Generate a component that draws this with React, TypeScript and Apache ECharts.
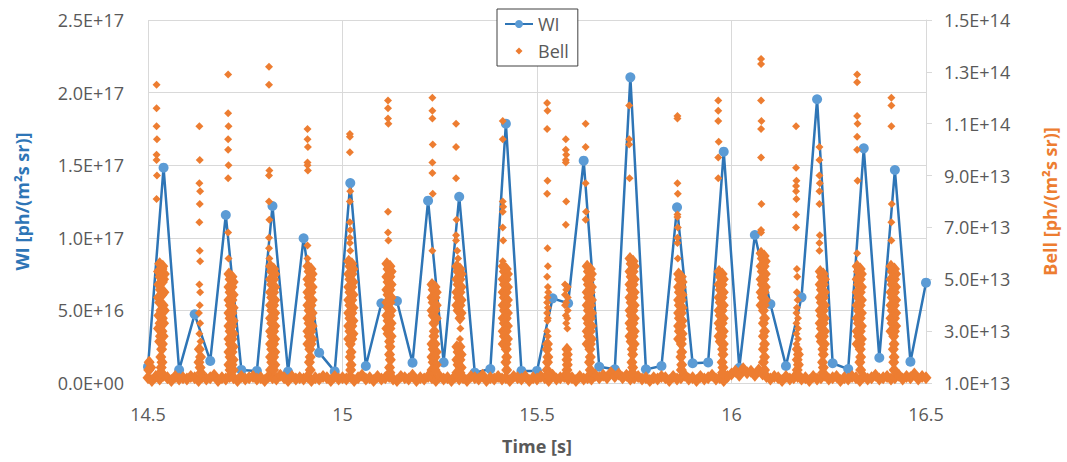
import React, { useEffect, useRef } from 'react';
import * as echarts from 'echarts';

// WI series: time [s] and intensity [ph/(m² s sr)]
const wiTime = [
  14.5, 14.54, 14.58, 14.62, 14.66, 14.7, 14.74, 14.78, 14.82, 14.86, 14.9, 14.94, 14.98,
  15.02, 15.06, 15.1, 15.14, 15.18, 15.22, 15.26, 15.3, 15.34, 15.38, 15.42, 15.46, 15.5,
  15.54, 15.58, 15.62, 15.66, 15.7, 15.74, 15.78, 15.82, 15.86, 15.9, 15.94, 15.98, 16.02,
  16.06, 16.1, 16.14, 16.18, 16.22, 16.26, 16.3, 16.34, 16.38, 16.42, 16.46, 16.5,
];
const wiValue = [
  1.12e16, 14.83e16, 0.9e16, 4.73e16, 1.52e16, 11.57e16, 0.9e16, 0.83e16, 12.19e16, 0.78e16, 9.97e16, 2.09e16, 0.8e16,
  13.77e16, 1.17e16, 5.49e16, 5.65e16, 1.4e16, 12.56e16, 1.42e16, 12.83e16, 0.71e16, 0.96e16, 17.86e16, 0.83e16, 0.83e16,
  5.83e16, 5.49e16, 15.31e16, 1.12e16, 0.94e16, 21.05e16, 0.94e16, 1.17e16, 12.1e16, 1.36e16, 1.42e16, 15.93e16, 1.05e16,
  10.19e16, 5.44e16, 1.17e16, 5.9e16, 19.54e16, 1.36e16, 0.96e16, 16.16e16, 1.74e16, 14.67e16, 1.47e16, 6.91e16,
];

// Bell series, [time s, intensity in units of 1e12 ph/(m² s sr)] — background level
const bellBaseline: [number, number][] = [
  [14.50,12],[14.51,11],[14.52,12.5],[14.53,11.5],[14.54,13],[14.55,12],[14.56,11],[14.57,12.5],[14.58,11.5],[14.59,12],
  [14.60,11.5],[14.61,12.5],[14.62,12],[14.63,11],[14.64,12.5],[14.65,11.5],[14.66,12],[14.67,13],[14.68,11],[14.69,12],
  [14.70,11.5],[14.71,12.5],[14.72,12],[14.73,11],[14.74,12.5],[14.75,11.5],[14.76,12],[14.77,12.5],[14.78,11.5],[14.79,12],
  [14.80,11],[14.81,12.5],[14.82,12],[14.83,11.5],[14.84,13],[14.85,12],[14.86,11],[14.87,12.5],[14.88,11.5],[14.89,12],
  [14.90,11.5],[14.91,12.5],[14.92,11],[14.93,12],[14.94,11.5],[14.95,12.5],[14.96,12],[14.97,11],[14.98,12.5],[14.99,11.5],
  [15.00,12],[15.01,11.5],[15.02,12.5],[15.03,11],[15.04,12],[15.05,13],[15.06,11.5],[15.07,12],[15.08,11],[15.09,12.5],
  [15.10,11.5],[15.11,12],[15.12,12.5],[15.13,11.5],[15.14,11],[15.15,12.5],[15.16,12],[15.17,11.5],[15.18,13],[15.19,11],
  [15.20,12],[15.21,11.5],[15.22,12.5],[15.23,12],[15.24,11],[15.25,12.5],[15.26,11.5],[15.27,12],[15.28,11],[15.29,12.5],
  [15.30,11.5],[15.31,12],[15.32,11],[15.33,12.5],[15.34,12],[15.35,11.5],[15.36,13],[15.37,11],[15.38,12],[15.39,11.5],
  [15.40,12.5],[15.41,11.5],[15.42,12],[15.43,11],[15.44,12.5],[15.45,12],[15.46,11.5],[15.47,12.5],[15.48,11],[15.49,12],
  [15.50,11.5],[15.51,12.5],[15.52,12],[15.53,11],[15.54,13],[15.55,11.5],[15.56,12],[15.57,12.5],[15.58,11.5],[15.59,12],
  [15.60,11],[15.61,12.5],[15.62,11.5],[15.63,12],[15.64,11.5],[15.65,13],[15.66,12],[15.67,13],[15.68,12],[15.69,14],
  [15.70,12.5],[15.71,13.5],[15.72,12],[15.73,13],[15.74,11.5],[15.75,12],[15.76,12.5],[15.77,11.5],[15.78,12],[15.79,11],
  [15.80,12],[15.81,11.5],[15.82,12.5],[15.83,12],[15.84,11],[15.85,12.5],[15.86,11.5],[15.87,12],[15.88,13],[15.89,11.5],
  [15.90,12],[15.91,11],[15.92,12.5],[15.93,11.5],[15.94,12],[15.95,13],[15.96,11.5],[15.97,12],[15.98,11],[15.99,12.5],
  [16.00,13.5],[16.01,14.5],[16.02,13],[16.03,15.5],[16.04,14],[16.05,14.5],[16.06,13],[16.07,15],[16.08,13.5],[16.09,12.5],
  [16.10,11.5],[16.11,12.5],[16.12,12],[16.13,11],[16.14,12.5],[16.15,11.5],[16.16,12],[16.17,12.5],[16.18,11.5],[16.19,12],
  [16.20,11],[16.21,12.5],[16.22,11.5],[16.23,12],[16.24,13],[16.25,11.5],[16.26,12],[16.27,12.5],[16.28,11],[16.29,12],
  [16.30,11.5],[16.31,12.5],[16.32,12],[16.33,11],[16.34,12.5],[16.35,11.5],[16.36,12],[16.37,13],[16.38,11.5],[16.39,12],
  [16.40,12.5],[16.41,11.5],[16.42,12],[16.43,13],[16.44,11.5],[16.45,12.5],[16.46,12],[16.47,13.5],[16.48,11.5],[16.49,12.5],
  [16.50,12],
];

// Bell series, dense part of each burst [time s, 1e12 units]
const bellDense: [number, number][] = [
  [14.503,18],[14.507,16],[14.502,15],
  [14.530,56],[14.538,55],[14.527,53],[14.536,54],[14.542,52],[14.531,51],[14.540,50],[14.528,48],[14.537,49],[14.532,46],[14.541,45],[14.527,43],[14.536,44],[14.530,41],[14.539,40],[14.533,38],[14.542,38],[14.528,36],[14.537,35],[14.531,33],[14.540,33],[14.527,31],[14.536,30],[14.532,28],[14.539,28],[14.530,26],[14.537,25],[14.535,23],[14.533,20],[14.536,18],[14.534,16],[14.532,14],
  [14.632,23],[14.635,20],[14.631,18],[14.634,16],[14.636,14],
  [14.708,52],[14.716,51],[14.711,50],[14.719,49],[14.708,47],[14.716,47],[14.711,45],[14.719,44],[14.708,42],[14.716,42],[14.711,40],[14.719,39],[14.708,37],[14.716,37],[14.711,35],[14.719,34],[14.708,32],[14.716,32],[14.711,30],[14.719,29],[14.708,27],[14.716,27],[14.711,25],[14.719,24],[14.708,22],[14.716,22],[14.711,20],[14.719,19],[14.708,17],[14.716,17],[14.711,15],[14.719,15],
  [14.815,55],[14.823,54],[14.818,53],[14.826,52],[14.815,50],[14.823,50],[14.818,48],[14.826,47],[14.815,45],[14.823,45],[14.818,43],[14.826,42],[14.815,40],[14.823,40],[14.818,38],[14.826,37],[14.815,35],[14.823,35],[14.818,33],[14.826,32],[14.815,30],[14.823,30],[14.818,28],[14.826,27],[14.815,25],[14.823,25],[14.818,23],[14.826,22],[14.815,20],[14.823,20],[14.818,18],[14.826,17],[14.815,15],[14.823,15],
  [14.911,55],[14.919,54],[14.914,53],[14.922,52],[14.911,50],[14.919,50],[14.914,48],[14.922,47],[14.911,45],[14.919,45],[14.914,43],[14.922,42],[14.911,40],[14.919,40],[14.914,38],[14.922,37],[14.911,35],[14.919,35],[14.914,33],[14.922,32],[14.911,30],[14.919,30],[14.914,28],[14.922,27],[14.911,25],[14.919,25],[14.916,23],[14.917,20],[14.915,18],[14.917,15],
  [15.016,57],[15.024,56],[15.019,55],[15.027,54],[15.016,52],[15.024,52],[15.019,50],[15.027,49],[15.016,47],[15.024,47],[15.019,45],[15.027,44],[15.016,42],[15.024,42],[15.019,40],[15.027,39],[15.016,37],[15.024,37],[15.019,35],[15.027,34],[15.016,32],[15.024,32],[15.019,30],[15.027,29],[15.016,27],[15.024,27],[15.020,25],[15.022,22],[15.020,20],[15.022,17],[15.021,15],
  [15.114,56],[15.122,55],[15.117,54],[15.125,53],[15.114,51],[15.122,51],[15.117,49],[15.125,48],[15.114,46],[15.122,46],[15.117,44],[15.125,43],[15.114,41],[15.122,41],[15.117,39],[15.125,38],[15.114,36],[15.122,36],[15.117,34],[15.125,33],[15.114,31],[15.122,31],[15.117,29],[15.125,28],[15.121,26],[15.122,24],[15.121,21],[15.123,19],[15.121,16],[15.122,14],
  [15.230,48],[15.238,47],[15.233,46],[15.241,45],[15.230,43],[15.238,43],[15.233,41],[15.241,40],[15.230,38],[15.238,38],[15.233,36],[15.241,35],[15.235,33],[15.236,30],[15.235,28],[15.230,25],[15.238,25],[15.233,23],[15.241,22],[15.230,20],[15.238,20],[15.233,18],[15.241,17],[15.230,15],[15.238,15],
  [15.294,55],[15.302,54],[15.297,53],[15.305,52],[15.294,50],[15.302,50],[15.297,48],[15.305,47],[15.294,45],[15.302,45],[15.297,43],[15.305,42],[15.294,40],[15.302,40],[15.297,38],[15.305,37],[15.302,35],[15.294,24],[15.302,24],[15.297,22],[15.305,21],[15.294,19],[15.302,19],[15.297,17],[15.305,16],[15.294,14],[15.302,14],
  [15.413,55],[15.421,54],[15.416,53],[15.424,52],[15.413,50],[15.421,50],[15.416,48],[15.424,47],[15.413,45],[15.421,45],[15.416,43],[15.424,42],[15.413,40],[15.421,40],[15.416,38],[15.424,37],[15.413,35],[15.421,35],[15.416,33],[15.424,32],[15.413,30],[15.421,30],[15.416,28],[15.424,27],[15.413,25],[15.421,25],[15.421,23],[15.422,20],[15.420,18],[15.422,15],
  [15.527,25],[15.526,23],[15.528,20],[15.527,18],[15.526,15],[15.528,13],
  [15.577,23],[15.578,21],[15.577,19],[15.578,17],[15.577,15],[15.578,13],
  [15.629,55],[15.637,54],[15.632,53],[15.640,52],[15.629,50],[15.637,50],[15.632,48],[15.640,47],[15.629,45],[15.637,45],[15.632,43],[15.640,42],[15.629,40],[15.637,40],[15.632,38],[15.640,37],[15.629,35],[15.637,35],[15.632,33],[15.640,32],[15.629,30],[15.637,30],[15.632,28],[15.640,27],[15.629,25],[15.637,25],[15.636,23],[15.637,20],[15.635,18],[15.637,15],
  [15.739,58],[15.747,57],[15.742,56],[15.750,55],[15.739,53],[15.747,53],[15.742,51],[15.750,50],[15.739,48],[15.747,48],[15.742,46],[15.750,45],[15.739,43],[15.747,43],[15.742,41],[15.750,40],[15.739,38],[15.747,38],[15.742,36],[15.750,35],[15.739,33],[15.747,33],[15.742,31],[15.750,30],[15.739,28],[15.747,28],[15.742,26],[15.750,25],[15.745,23],[15.746,21],[15.744,18],[15.746,16],[15.745,14],
  [15.864,52],[15.871,51],[15.866,50],[15.873,49],[15.864,47],[15.871,47],[15.866,45],[15.873,44],[15.864,42],[15.871,42],[15.866,40],[15.873,39],[15.864,37],[15.871,37],[15.866,35],[15.873,34],[15.864,32],[15.871,32],[15.866,30],[15.873,29],[15.864,27],[15.871,27],[15.871,25],[15.872,22],[15.870,20],[15.872,17],[15.871,15],
  [15.968,53],[15.976,52],[15.971,51],[15.979,50],[15.968,48],[15.976,48],[15.971,46],[15.979,45],[15.968,43],[15.976,43],[15.971,41],[15.979,40],[15.968,38],[15.976,38],[15.971,36],[15.979,35],[15.968,33],[15.976,33],[15.971,31],[15.979,30],[15.968,28],[15.976,28],[15.971,26],[15.979,25],[15.977,23],[15.978,21],[15.976,18],[15.978,16],[15.977,14],
  [16.076,60],[16.084,59],[16.079,58],[16.087,57],[16.076,55],[16.084,55],[16.079,53],[16.087,52],[16.076,50],[16.084,50],[16.079,48],[16.087,47],[16.076,45],[16.084,45],[16.079,43],[16.087,42],[16.076,40],[16.084,40],[16.082,38],[16.085,35],[16.082,33],[16.085,30],[16.082,28],[16.085,25],[16.082,23],[16.085,20],[16.082,18],[16.085,15],
  [16.169,23],[16.172,21],[16.169,19],[16.172,17],[16.169,15],[16.172,13],
  [16.228,53],[16.236,52],[16.231,51],[16.239,50],[16.228,48],[16.236,48],[16.231,46],[16.239,45],[16.228,43],[16.236,43],[16.231,41],[16.239,40],[16.228,38],[16.236,38],[16.231,36],[16.239,35],[16.228,33],[16.236,33],[16.231,31],[16.239,30],[16.228,28],[16.236,28],[16.231,26],[16.239,25],[16.235,23],[16.236,21],[16.234,18],[16.236,16],[16.235,14],
  [16.323,55],[16.331,54],[16.326,53],[16.334,52],[16.323,50],[16.331,50],[16.326,48],[16.334,47],[16.323,45],[16.331,45],[16.326,43],[16.334,42],[16.323,40],[16.331,40],[16.326,38],[16.334,37],[16.323,35],[16.331,35],[16.326,33],[16.334,32],[16.323,30],[16.331,30],[16.326,28],[16.334,27],[16.323,25],[16.331,25],[16.331,23],[16.332,20],[16.330,18],[16.332,15],
  [16.410,55],[16.419,54],[16.413,53],[16.422,52],[16.410,50],[16.419,50],[16.413,48],[16.422,47],[16.410,45],[16.419,45],[16.413,43],[16.422,42],[16.410,40],[16.419,40],[16.413,38],[16.422,37],[16.410,35],[16.419,35],[16.413,33],[16.422,32],[16.410,30],[16.419,30],[16.417,28],[16.418,25],[16.416,23],[16.418,20],[16.417,18],[16.418,15],
];

// Bell series, isolated samples [time s, 1e12 units]
const bellSparse: [number, number][] = [
  [14.522,125],[14.522,116],[14.522,109],[14.523,104],[14.522,98],[14.522,96],[14.523,90],[14.522,81],
  [14.632,109],[14.633,96],[14.632,87],[14.634,84],[14.633,79],[14.632,72],[14.633,61],[14.634,57],[14.632,48],[14.634,45],[14.633,40],[14.631,37],[14.634,33],[14.632,29],[14.635,26],
  [14.706,129],[14.706,114],[14.707,109],[14.706,104],[14.706,100],[14.707,94],[14.706,89],[14.706,68],[14.707,58],
  [14.811,132],[14.811,125],[14.812,92],[14.811,90],[14.811,80],[14.812,73],[14.811,66],[14.811,62],[14.812,58],
  [14.910,108],[14.910,104],[14.911,101],[14.910,95],[14.910,94],[14.911,92],[14.910,63],[14.910,58],
  [15.019,106],[15.019,105],[15.019,99],[15.020,84],[15.019,80],[15.019,72],[15.020,69],[15.019,66],[15.019,64],[15.020,61],
  [15.117,119],[15.117,116],[15.117,112],[15.118,110],[15.117,76],[15.117,68],[15.118,65],
  [15.231,120],[15.231,115],[15.231,112],[15.232,102],[15.231,95],[15.231,91],[15.232,83],[15.231,61],
  [15.292,110],[15.292,101],[15.292,89],[15.293,73],[15.292,67],[15.292,65],[15.295,61],[15.297,58],[15.303,31],[15.302,27],
  [15.412,111],[15.412,104],[15.412,80],[15.413,78],[15.412,76],[15.412,70],[15.413,65],[15.412,57],
  [15.526,118],[15.527,115],[15.526,108],[15.527,88],[15.526,83],[15.527,62],[15.528,55],[15.526,51],[15.528,47],[15.529,45],[15.527,43],[15.526,41],[15.528,39],[15.526,37],[15.528,35],[15.527,34],[15.526,30],[15.528,28],
  [15.574,104],[15.574,100],[15.575,98],[15.574,96],[15.574,95],[15.575,80],[15.574,71],[15.572,48],[15.579,47],[15.575,46],[15.572,44],[15.579,43],[15.575,41],[15.572,40],[15.579,38],[15.574,36],[15.578,35],[15.575,33],[15.578,31],
  [15.625,110],[15.625,101],[15.625,87],[15.626,76],[15.625,73],
  [15.737,117],[15.737,104],[15.737,102],[15.738,89],
  [15.861,113],[15.861,112],[15.861,87],[15.862,83],[15.861,75],[15.861,74],[15.862,70],[15.861,66],[15.861,64],[15.862,58],
  [15.966,119],[15.966,115],[15.966,111],[15.967,103],[15.966,97],[15.966,89],
  [16.076,135],[16.076,133],[16.076,119],[16.077,111],[16.076,108],[16.076,97],[16.077,79],[16.076,69],[16.076,68],
  [16.166,109],[16.166,93],[16.167,88],[16.166,86],[16.166,84],[16.167,81],[16.166,75],[16.166,70],[16.168,54],[16.169,51],[16.168,45],[16.170,42],[16.168,39],[16.167,37],[16.171,35],[16.167,33],[16.171,31],[16.167,29],[16.171,27],[16.167,25],
  [16.226,101],[16.226,96],[16.226,90],[16.227,87],[16.226,84],[16.226,79],[16.227,67],[16.226,64],[16.226,61],
  [16.323,129],[16.323,126],[16.323,113],[16.324,110],[16.323,105],[16.323,100],[16.324,88],[16.323,60],[16.323,28],
  [16.411,120],[16.411,117],[16.411,109],[16.412,79],[16.411,72],[16.411,65],
];

function sci(v: number): string {
  if (Math.abs(v) < 1) return '0.0E+00';
  const [m, e] = v.toExponential(1).split('e');
  const sign = e[0] === '-' ? '-' : '+';
  const d = e.replace(/[+-]/, '').padStart(2, '0');
  return `${m}E${sign}${d}`;
}

const bellLegendIcon = 'path://M0,0M28,0M28,10M0,10M14,1.5L17.5,5L14,8.5L10.5,5Z';

export default function App() {
  const ref = useRef<HTMLDivElement>(null);
  useEffect(() => {
    if (!ref.current) return;
    const chart = echarts.init(ref.current, null, { renderer: 'svg' });
    const font = "'Open Sans', 'Noto Sans', sans-serif";
    const grey = '#595959';
    const gridCol = '#D9D9D9';
    const orange = '#ED7D31';
    const toBell = (arr: [number, number][]) => arr.map(([t, v]) => [t, v * 1e12]);
    chart.setOption({
      animation: false,
      backgroundColor: '#ffffff',
      textStyle: { fontFamily: font },
      grid: { left: 148, right: 141, top: 20, bottom: 79, containLabel: false },
      legend: {
        orient: 'vertical',
        left: 497,
        top: 9,
        backgroundColor: '#ffffff',
        borderColor: '#404040',
        borderWidth: 1,
        borderRadius: 0,
        padding: [6, 9, 6, 7],
        itemGap: 9,
        itemWidth: 28,
        itemHeight: 10,
        textStyle: { fontFamily: font, fontSize: 18, color: grey },
        data: [{ name: 'WI' }, { name: 'Bell', icon: bellLegendIcon }],
      },
      xAxis: {
        type: 'value',
        min: 14.5,
        max: 16.5,
        interval: 0.5,
        name: 'Time [s]',
        nameLocation: 'middle',
        nameGap: 54,
        nameTextStyle: { fontFamily: font, fontSize: 18, fontWeight: 'bold', color: grey },
        axisLine: { show: false },
        axisTick: { show: false },
        axisLabel: { fontFamily: font, fontSize: 18, color: grey, margin: 22 },
        splitLine: { show: true, lineStyle: { color: gridCol, width: 1 } },
      },
      yAxis: [
        {
          type: 'value',
          min: 0,
          max: 2.5e17,
          interval: 5e16,
          position: 'left',
          name: 'WI [ph/(m²s sr)]',
          nameLocation: 'middle',
          nameRotate: 90,
          nameGap: 117,
          nameTextStyle: { fontFamily: font, fontSize: 18, fontWeight: 'bold', color: '#2E75B6' },
          axisLine: { show: false },
          axisTick: { show: false },
          axisLabel: { fontFamily: font, fontSize: 18, color: grey, margin: 24, formatter: (v: number) => sci(v) },
          splitLine: { show: true, lineStyle: { color: gridCol, width: 1 } },
        },
        {
          type: 'value',
          min: 1e13,
          max: 1.5e14,
          interval: 2e13,
          position: 'right',
          name: 'Bell [ph/(m²s sr)]',
          nameLocation: 'middle',
          nameRotate: 90,
          nameGap: 115,
          nameTextStyle: { fontFamily: font, fontSize: 18, fontWeight: 'bold', color: orange },
          axisLine: { show: true, lineStyle: { color: gridCol, width: 1 } },
          axisTick: { show: true, length: 6, lineStyle: { color: gridCol } },
          axisLabel: { fontFamily: font, fontSize: 18, color: grey, margin: 18, formatter: (v: number) => sci(v) },
          splitLine: { show: false },
        },
      ],
      series: [
        {
          name: 'WI',
          type: 'line',
          yAxisIndex: 0,
          data: wiTime.map((t, i) => [t, wiValue[i]]),
          symbol: 'circle',
          symbolSize: 10,
          showAllSymbol: true,
          itemStyle: { color: '#5B9BD5' },
          lineStyle: { color: '#2E75B6', width: 2.5 },
          z: 2,
        },
        {
          name: 'Bell',
          type: 'scatter',
          yAxisIndex: 1,
          data: toBell(bellSparse),
          symbol: 'diamond',
          symbolSize: 8,
          itemStyle: { color: orange, opacity: 1 },
          z: 3,
        },
        {
          name: 'Bell',
          type: 'scatter',
          yAxisIndex: 1,
          data: toBell([...bellBaseline, ...bellDense]),
          symbol: 'diamond',
          symbolSize: [11, 13],
          itemStyle: { color: orange, opacity: 1 },
          z: 3,
        },
      ],
    });
    return () => chart.dispose();
  }, []);
  return (
    <div
      ref={ref}
      style={{ position: 'fixed', left: 0, top: 0, width: 1067, height: 462, background: '#ffffff' }}
    />
  );
}
